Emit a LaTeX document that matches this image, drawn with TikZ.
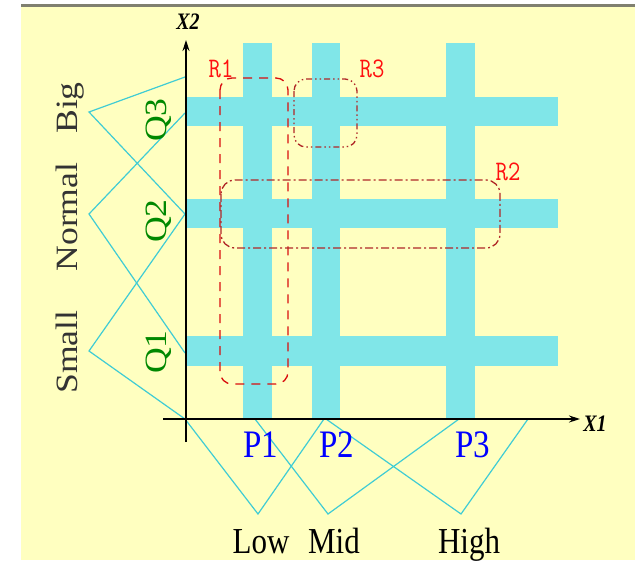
\documentclass[tikz,border=0pt]{standalone}
\usepackage{fontspec}
\setmainfont{Liberation Serif}
\usetikzlibrary{arrows.meta}
\definecolor{bg}{HTML}{FFFFC0}
\definecolor{barc}{HTML}{80E6E8}
\definecolor{tric}{HTML}{40CCD4}
\definecolor{qgreen}{HTML}{008800}
\definecolor{pblue}{HTML}{0000FF}
\definecolor{rred}{HTML}{FF1010}
\definecolor{rline}{HTML}{B02828}
\definecolor{topline}{HTML}{808070}
\newcommand{\vstretch}[1]{\scalebox{1}[1.18]{#1}}
\newcommand{\hstretch}[1]{\scalebox{1.15}[1]{#1}}
\begin{document}
\begin{tikzpicture}[x=1pt,y=-1pt,
  bigtext/.style={font=\fontsize{31}{31}\selectfont, text=black!80, rotate=90, anchor=base, inner sep=0pt},
  qlab/.style={font=\fontsize{31}{31}\selectfont, text=qgreen, rotate=90, anchor=base, inner sep=0pt},
  plab/.style={font=\fontsize{33}{33}\selectfont, text=pblue, anchor=base, inner sep=0pt},
  setlab/.style={font=\fontsize{31}{31}\selectfont, text=black, anchor=base, inner sep=0pt},
  rlab/.style={font=\ttfamily\fontsize{24}{24}\selectfont, text=rred, inner sep=0pt},
  axlab/.style={font=\itshape\bfseries\fontsize{20}{20}\selectfont, inner sep=0pt},
  memb/.style={draw=tric, line width=1.2pt, line join=miter},
  axisline/.style={line width=1.4pt, -{Stealth[length=11pt,width=7pt]}},
  bar/.style={fill=barc}
]
\useasboundingbox (0,0) rectangle (635,560);
\fill[bg] (21,5) rectangle (635,560);
\draw[topline, line width=3pt] (21,5.5) -- (635,5.5);

% bars
\fill[bar] (243,43) rectangle (272,419);
\fill[bar] (312,43) rectangle (340,419);
\fill[bar] (446,43) rectangle (475,419);
\fill[bar] (186,97) rectangle (558,126);
\fill[bar] (186,199) rectangle (558,228);
\fill[bar] (186,336) rectangle (558,366);

% membership functions X1
\draw[memb] (185,419) -- (258,514) -- (324,419);
\draw[memb] (255,419) -- (328,514) -- (459,419);
\draw[memb] (326,419) -- (461,514) -- (528,419);
% membership functions X2
\draw[memb] (185,77) -- (89,112) -- (185,214);
\draw[memb] (185,113) -- (89,214) -- (185,353);
\draw[memb] (185,214) -- (89,351) -- (185,419);

% axes
\coordinate (x0) at (163,419);
\coordinate (x1end) at (580,419);
\coordinate (y0) at (186,442);
\coordinate (y1end) at (186,40);
\draw[axisline] (x0) -- (x1end);
\draw[axisline] (y0) -- (y1end);
\node[axlab] (X1) at (595,424) {\vstretch{X1}};
\node[axlab] (X2) at (188,22) {\vstretch{X2}};

% regions
\draw[rred!85!black, line width=1.3pt, dash pattern=on 9pt off 7pt, rounded corners=12pt] (220,78) rectangle (288,384);
\draw[rline, line width=1.3pt, dash pattern=on 6pt off 3pt on 1.5pt off 3pt on 1.5pt off 3pt, rounded corners=12pt] (294,79) rectangle (357,147);
\draw[rline, line width=1.3pt, dash pattern=on 8pt off 3pt on 2pt off 3pt, rounded corners=14pt] (221,180) rectangle (500,248);
\node[rlab] (R1) at (221,69) {\vstretch{R1}};
\node[rlab] (R3) at (372,69) {\vstretch{R3}};
\node[rlab] (R2) at (508,172) {\vstretch{R2}};

% labels on X2 side
\node[bigtext] (big) at (77,108) {\hstretch{Big}};
\node[bigtext] (normal) at (77,217) {\hstretch{Normal}};
\node[bigtext] (small) at (77,352) {\hstretch{Small}};
\node[qlab] (Q3) at (166,120) {\hstretch{Q3}};
\node[qlab] (Q2) at (166,221) {\hstretch{Q2}};
\node[qlab] (Q1) at (166,352) {\hstretch{Q1}};

% labels on X1 side
\node[plab] (P1) at (261,457) {\vstretch{P1}};
\node[plab] (P2) at (337,457) {\vstretch{P2}};
\node[plab] (P3) at (473,457) {\vstretch{P3}};
\node[setlab] (low) at (261,553) {\vstretch{Low}};
\node[setlab] (mid) at (334,553) {\vstretch{Mid}};
\node[setlab] (high) at (469,553) {\vstretch{High}};
\end{tikzpicture}
\end{document}
